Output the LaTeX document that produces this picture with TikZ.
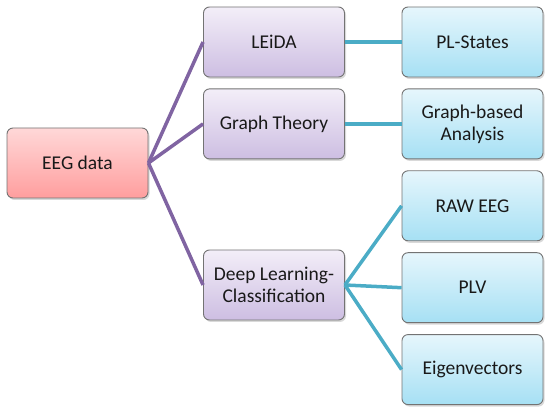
\documentclass[tikz,border=0pt]{standalone}
\usepackage{fontspec}
\setmainfont{Carlito}
\usetikzlibrary{positioning, shadows}

\definecolor{rootTop}{HTML}{FFD8D8}
\definecolor{rootBot}{HTML}{FF9E9E}
\definecolor{midTop}{HTML}{F3EEF8}
\definecolor{midBot}{HTML}{CDBEE2}
\definecolor{leafTop}{HTML}{E6F6FC}
\definecolor{leafBot}{HTML}{A6E0F4}
\definecolor{purpleLine}{HTML}{8064A2}
\definecolor{aquaLine}{HTML}{4BACC6}

\tikzset{
  box/.style={draw=black!55, line width=0.9pt, rounded corners=6pt,
    minimum width=141pt, minimum height=70pt, align=center,
    font=\fontsize{19.5}{22}\selectfont, text=black!90,
    drop shadow={shadow xshift=1.5pt, shadow yshift=-2pt, opacity=0.3}},
  rootbox/.style={box, top color=rootTop, bottom color=rootBot},
  midbox/.style={box, top color=midTop, bottom color=midBot},
  leafbox/.style={box, top color=leafTop, bottom color=leafBot},
  purplelink/.style={draw=purpleLine, line width=3.5pt},
  aqualink/.style={draw=aquaLine, line width=3.5pt}
}

\begin{document}
\begin{tikzpicture}[x=1pt, y=-1pt]
\useasboundingbox (0,0) rectangle (550,411);

% root and middle column
\node[rootbox] (eeg) at (77.5,163) {EEG data};
\node[midbox] (leida) at (274,42) {LEiDA};
\node[midbox, below=11pt of leida] (graph) {Graph Theory};
\node[midbox] (deep) at (274,285) {Deep Learning-\\Classification};

% right column
\node[leafbox] (states) at (472.5,42) {PL-States};
\node[leafbox, below=11pt of states] (analysis) {Graph-based\\Analysis};
\node[leafbox, below=11pt of analysis] (raw) {RAW EEG};
\node[leafbox, below=11pt of raw] (plv) {PLV};
\node[leafbox, below=11pt of plv] (eigen) {Eigenvectors};

% connectors
\draw[purplelink] (eeg.east) -- (leida.west);
\draw[purplelink] (eeg.east) -- (graph.west);
\draw[purplelink] (eeg.east) -- (deep.west);
\draw[aqualink] (leida.east) -- (states.west);
\draw[aqualink] (graph.east) -- (analysis.west);
\draw[aqualink] (deep.east) -- (raw.west);
\draw[aqualink] (deep.east) -- (plv.west);
\draw[aqualink] (deep.east) -- (eigen.west);
\end{tikzpicture}
\end{document}
